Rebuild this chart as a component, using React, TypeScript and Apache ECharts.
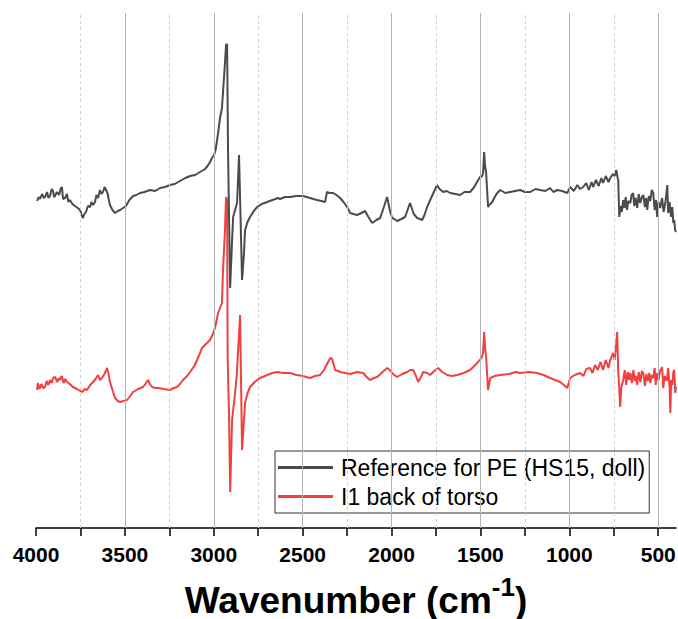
import React, { useEffect, useRef } from "react";
import * as echarts from "echarts";

// Reference for PE (HS15, doll): [wavenumber cm-1, offset intensity a.u.]
const refSpectrum: [number, number][] = [
  [3994, 327], [3985, 331], [3977, 329], [3966, 334], [3955, 330], [3949, 331], [3938, 336], [3930, 330],
  [3921, 332], [3912, 339], [3904, 337], [3898, 331], [3893, 332], [3882, 336], [3870, 333], [3862, 339],
  [3854, 341], [3848, 329], [3837, 330], [3826, 334], [3818, 326], [3809, 328], [3795, 324], [3781, 322],
  [3765, 320], [3752, 318], [3744, 313], [3736, 310], [3728, 314], [3719, 316], [3708, 322], [3696, 321],
  [3688, 326], [3679, 323], [3668, 326], [3660, 333], [3651, 330], [3640, 338], [3632, 334], [3623, 336],
  [3614, 341], [3606, 338], [3598, 335], [3590, 328], [3584, 323], [3570, 318], [3555, 315], [3540, 317],
  [3527, 318], [3510, 320], [3494, 322], [3475, 328], [3454, 332], [3435, 333], [3415, 335], [3390, 336],
  [3359, 338], [3330, 337], [3302, 340], [3275, 341], [3246, 343], [3220, 344], [3190, 347], [3160, 350],
  [3133, 352], [3105, 353], [3077, 356], [3049, 359], [3035, 362], [3021, 366], [3010, 370], [2998, 373],
  [2990, 378], [2982, 387], [2975, 396], [2965, 410], [2954, 420], [2948, 436], [2942, 452], [2937, 465],
  [2931, 483], [2925, 484], [2920, 380], [2908, 240], [2897, 288], [2891, 311], [2880, 318], [2869, 325],
  [2858, 373], [2852, 330], [2841, 248], [2830, 275], [2824, 298], [2810, 306], [2796, 311], [2775, 317],
  [2756, 321], [2730, 324], [2700, 326], [2670, 328], [2638, 330], [2627, 329], [2600, 331], [2571, 331],
  [2535, 332], [2498, 332], [2458, 330], [2440, 329], [2419, 328], [2395, 327], [2374, 326], [2363, 336],
  [2350, 335], [2329, 335], [2310, 333], [2289, 330], [2270, 326], [2250, 321], [2233, 315], [2215, 314],
  [2194, 313], [2170, 315], [2149, 317], [2130, 311], [2109, 305], [2085, 308], [2064, 310], [2045, 320],
  [2025, 331], [2010, 318], [1997, 310], [1985, 309], [1969, 307], [1945, 309], [1924, 311], [1910, 318],
  [1896, 325], [1875, 314], [1856, 310], [1840, 309], [1828, 308], [1815, 313], [1800, 321], [1770, 333],
  [1744, 343], [1730, 339], [1710, 336], [1690, 337], [1670, 335], [1640, 334], [1614, 333], [1590, 336],
  [1558, 336], [1535, 341], [1513, 348], [1502, 351], [1490, 352], [1485, 355], [1479, 376], [1474, 362],
  [1468, 355], [1457, 321], [1445, 324], [1434, 326], [1410, 334], [1389, 338], [1360, 335], [1333, 336],
  [1305, 337], [1277, 338], [1250, 336], [1220, 336], [1190, 339], [1164, 338], [1135, 337], [1108, 340],
  [1090, 336], [1068, 338], [1040, 337], [1012, 335], [995, 341], [975, 337], [955, 343], [940, 339],
  [922, 341], [905, 345], [890, 338], [875, 346], [866, 341], [850, 348], [835, 342], [820, 350],
  [810, 345], [795, 352], [780, 346], [770, 350], [755, 354], [745, 352], [736, 358], [728, 350],
  [725, 348], [719, 311], [712, 322], [705, 316], [697, 328], [690, 320], [683, 331], [676, 318],
  [668, 327], [657, 325], [650, 333], [641, 335], [635, 322], [627, 330], [618, 320], [610, 334],
  [601, 325], [592, 331], [584, 333], [575, 321], [568, 330], [562, 318], [553, 332], [545, 327],
  [536, 338], [528, 335], [520, 318], [512, 328], [506, 311], [498, 326], [489, 320], [478, 330],
  [470, 316], [460, 325], [449, 343], [444, 315], [436, 326], [428, 311], [421, 321], [415, 305],
  [410, 308], [405, 298], [400, 296],
];

// I1 back of torso: [wavenumber cm-1, offset intensity a.u.]
const sampleSpectrum: [number, number][] = [
  [3994, 138], [3989, 145], [3980, 139], [3970, 144], [3960, 140], [3949, 141], [3940, 147], [3930, 143],
  [3921, 148], [3912, 145], [3904, 150], [3893, 151], [3880, 146], [3872, 150], [3865, 148], [3855, 152],
  [3845, 145], [3835, 149], [3826, 146], [3810, 144], [3792, 141], [3770, 139], [3741, 136], [3725, 139],
  [3713, 138], [3695, 143], [3679, 146], [3665, 149], [3651, 153], [3640, 148], [3629, 150], [3615, 154],
  [3600, 160], [3592, 154], [3584, 146], [3570, 138], [3555, 130], [3540, 127], [3527, 126], [3508, 127],
  [3488, 128], [3470, 132], [3454, 136], [3425, 139], [3398, 141], [3385, 144], [3370, 148], [3360, 144],
  [3347, 141], [3330, 140], [3313, 140], [3280, 139], [3246, 138], [3225, 140], [3207, 141], [3190, 144],
  [3173, 148], [3150, 152], [3133, 156], [3110, 162], [3094, 168], [3080, 174], [3066, 180], [3050, 183],
  [3038, 185], [3021, 188], [3005, 194], [2993, 200], [2985, 207], [2976, 215], [2965, 220], [2954, 225],
  [2948, 258], [2942, 280], [2937, 298], [2931, 331], [2925, 328], [2922, 171], [2914, 111], [2908, 36],
  [2897, 108], [2880, 135], [2870, 155], [2863, 178], [2852, 213], [2841, 78], [2824, 125], [2810, 135],
  [2796, 141], [2770, 146], [2740, 150], [2700, 153], [2670, 155], [2644, 156], [2610, 155], [2571, 155],
  [2535, 153], [2498, 152], [2480, 151], [2458, 150], [2430, 152], [2402, 153], [2380, 158], [2357, 166],
  [2345, 170], [2334, 169], [2325, 163], [2318, 158], [2300, 157], [2289, 156], [2260, 155], [2233, 154],
  [2195, 156], [2160, 155], [2140, 151], [2121, 148], [2100, 150], [2081, 151], [2050, 156], [2025, 160],
  [2010, 158], [1997, 155], [1985, 153], [1969, 151], [1940, 154], [1912, 156], [1895, 158], [1879, 158],
  [1865, 153], [1850, 146], [1835, 151], [1822, 156], [1800, 155], [1783, 153], [1760, 157], [1738, 160],
  [1715, 156], [1687, 153], [1660, 152], [1631, 153], [1595, 155], [1558, 158], [1535, 162], [1513, 166],
  [1495, 170], [1485, 175], [1479, 196], [1474, 180], [1468, 171], [1457, 138], [1445, 150], [1420, 152],
  [1389, 153], [1340, 154], [1300, 156], [1277, 155], [1230, 156], [1181, 155], [1145, 153], [1108, 150],
  [1080, 148], [1052, 146], [1030, 143], [1012, 140], [995, 150], [970, 153], [939, 155], [920, 152],
  [905, 159], [883, 160], [870, 155], [855, 163], [840, 158], [825, 166], [810, 158], [795, 168],
  [780, 160], [770, 168], [760, 172], [753, 175], [745, 168], [738, 180], [731, 196], [725, 158],
  [714, 121], [708, 140], [697, 148], [688, 158], [680, 143], [672, 156], [663, 148], [657, 155],
  [648, 145], [640, 158], [632, 147], [626, 152], [618, 143], [610, 156], [600, 146], [592, 157],
  [584, 155], [575, 142], [567, 154], [559, 147], [550, 155], [545, 145], [536, 153], [528, 150],
  [520, 160], [514, 143], [506, 155], [498, 148], [490, 157], [478, 161], [472, 140], [463, 152],
  [452, 147], [444, 160], [436, 140], [432, 115], [427, 148], [421, 143], [415, 156], [410, 158],
  [404, 135], [400, 141],
];

const tickLabels = [4000, 3500, 3000, 2500, 2000, 1500, 1000, 500];
const tickMarks = [4000, 3750, 3500, 3250, 3000, 2750, 2500, 2250, 2000, 1750, 1500, 1250, 1000, 750, 500];
const majorGrid = [3500, 3000, 2500, 2000, 1500, 1000, 500];
const minorGrid = [3750, 3250, 2750, 2250, 1750, 1250, 750];

const seriesNames = ["Reference for PE (HS15, doll)", "I1 back of torso"];
const seriesColors = ["#4b4b4b", "#f04040"];

const FONT = "'Liberation Sans', Arial, sans-serif";

export default function App() {
  const ref = useRef<HTMLDivElement>(null);

  useEffect(() => {
    if (!ref.current) return;
    const chart = echarts.init(ref.current, undefined, { renderer: "svg" });

    chart.setOption({
      animation: false,
      backgroundColor: "#ffffff",
      grid: { left: 36, right: 2, top: 13, bottom: 91, containLabel: false, outerBoundsMode: "none" },
      legend: {
        data: seriesNames.map((n) => ({ name: n, icon: "rect" })),
        orient: "vertical",
        left: 275,
        top: 451,
        itemWidth: 55,
        itemHeight: 3,
        itemGap: 6,
        padding: [5, 4, 5, 3],
        borderColor: "#333333",
        borderWidth: 1,
        backgroundColor: "#ffffff",
        selectedMode: false,
        textStyle: { fontFamily: FONT, fontSize: 23, lineHeight: 23, color: "#000000", padding: [0, 0, 0, 3] },
      },
      xAxis: {
        type: "value",
        min: 400,
        max: 4000,
        inverse: true,
        axisLine: { show: true, lineStyle: { color: "#000000", width: 1.5 } },
        axisTick: {
          show: true,
          customValues: tickMarks,
          length: 8,
          inside: false,
          lineStyle: { color: "#000000", width: 1.5 },
        },
        axisLabel: {
          customValues: tickLabels,
          formatter: (v: number) => String(v),
          fontFamily: FONT,
          fontSize: 21,
          fontWeight: "bold",
          color: "#000000",
          margin: 16,
          hideOverlap: false,
        },
        splitLine: { show: false },
        name: "{a|Wavenumber (cm}{b|-1}{a|)}",
        nameLocation: "middle",
        nameGap: 46,
        nameTextStyle: {
          rich: {
            a: { fontFamily: FONT, fontSize: 37, fontWeight: "bold", color: "#000000", lineHeight: 52 },
            b: {
              fontFamily: FONT,
              fontSize: 26,
              fontWeight: "bold",
              color: "#000000",
              lineHeight: 24,
              verticalAlign: "top",
            },
          },
        },
      },
      yAxis: {
        type: "value",
        min: 0,
        max: 515,
        show: false,
        splitLine: { show: false },
      },
      series: [
        {
          name: "gridlines",
          type: "line",
          data: [[4000, -10]],
          showSymbol: false,
          lineStyle: { opacity: 0 },
          silent: true,
          z: 0,
          markLine: {
            silent: true,
            symbol: ["none", "none"],
            label: { show: false },
            data: [
              ...majorGrid.map((v) => ({
                xAxis: v,
                lineStyle: { color: "#b4b4b4", width: 1, type: "solid" },
              })),
              ...minorGrid.map((v) => ({
                xAxis: v,
                lineStyle: { color: "#cfcfcf", width: 1, type: [3, 3] },
              })),
            ],
          },
        },
        {
          name: seriesNames[0],
          type: "line",
          data: refSpectrum,
          showSymbol: false,
          color: seriesColors[0],
          lineStyle: { color: seriesColors[0], width: 2 },
          z: 3,
        },
        {
          name: seriesNames[1],
          type: "line",
          data: sampleSpectrum,
          showSymbol: false,
          color: seriesColors[1],
          lineStyle: { color: seriesColors[1], width: 2 },
          z: 2,
        },
      ],
    });

    return () => chart.dispose();
  }, []);

  return (
    <div
      ref={ref}
      style={{ position: "fixed", left: 0, top: 0, width: 678, height: 619, background: "#fff" }}
    />
  );
}
